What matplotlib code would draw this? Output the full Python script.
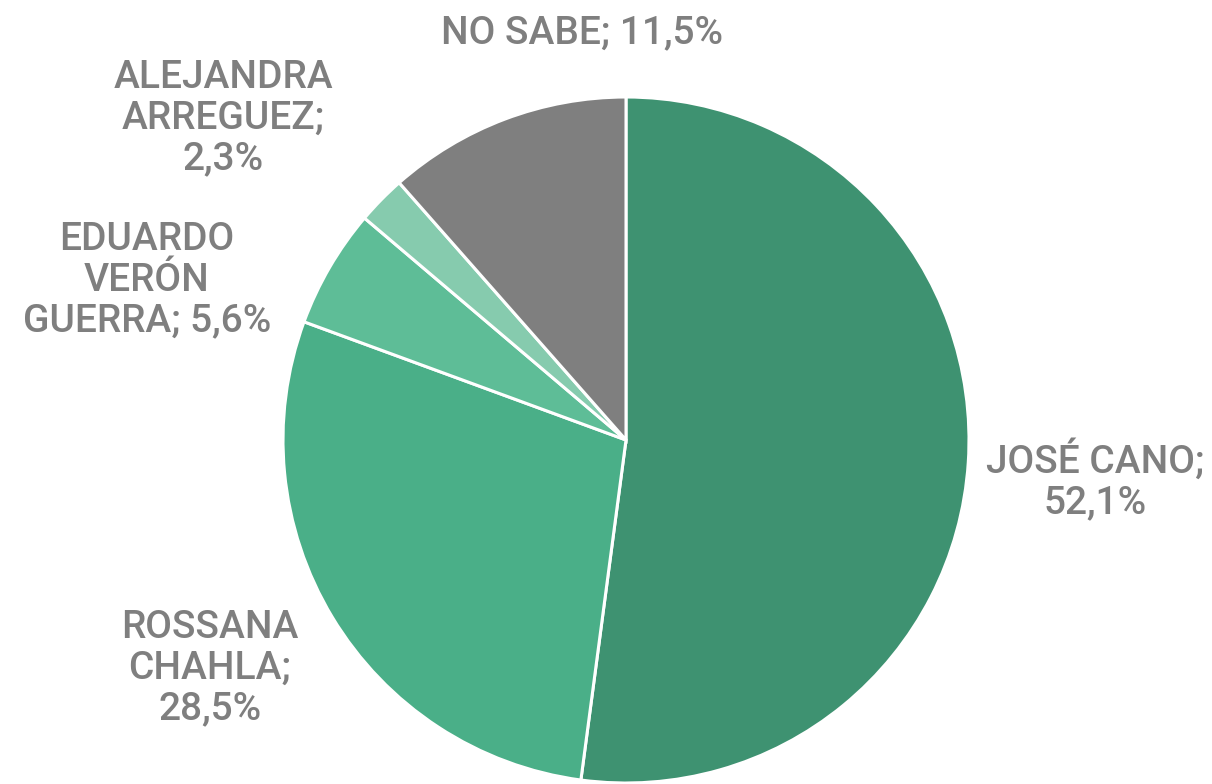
import matplotlib
matplotlib.use("Agg")
import matplotlib.pyplot as plt

labels = ["JOSÉ CANO;\n52,1%", "ROSSANA\nCHAHLA;\n28,5%", "EDUARDO\nVERÓN\nGUERRA; 5,6%",
          "ALEJANDRA\nARREGUEZ;\n2,3%", "NO SABE; 11,5%"]
values = [52.1, 28.5, 5.6, 2.3, 11.5]
colors = ["#3E9271", "#4AAF88", "#5EBD97", "#86CBAE", "#7F7F7F"]

W, H = 1212, 784
fig = plt.figure(figsize=(W / 100, H / 100), dpi=100)
cx, cy, r = 626, 440, 343
ax = fig.add_axes([(cx - r) / W, (H - cy - r) / H, 2 * r / W, 2 * r / H])

ax.pie(values, colors=colors, startangle=90, counterclock=False, radius=1,
       wedgeprops=dict(edgecolor="white", linewidth=2.2))
ax.set_xlim(-1, 1)
ax.set_ylim(-1, 1)
ax.set_aspect("equal")
ax.axis("off")

label_pos = [(1.367, -0.117), (-1.213, -0.665), (-1.397, 0.466), (-1.175, 0.939), (-0.128, 1.187)]
for lab, (x, y) in zip(labels, label_pos):
    ax.text(x, y, lab, ha="center", va="center", fontsize=28, color="#7F7F7F",
            family="Roboto", fontweight="medium", linespacing=1.12, clip_on=False)

fig.savefig("out.png", dpi=100, facecolor="white")
